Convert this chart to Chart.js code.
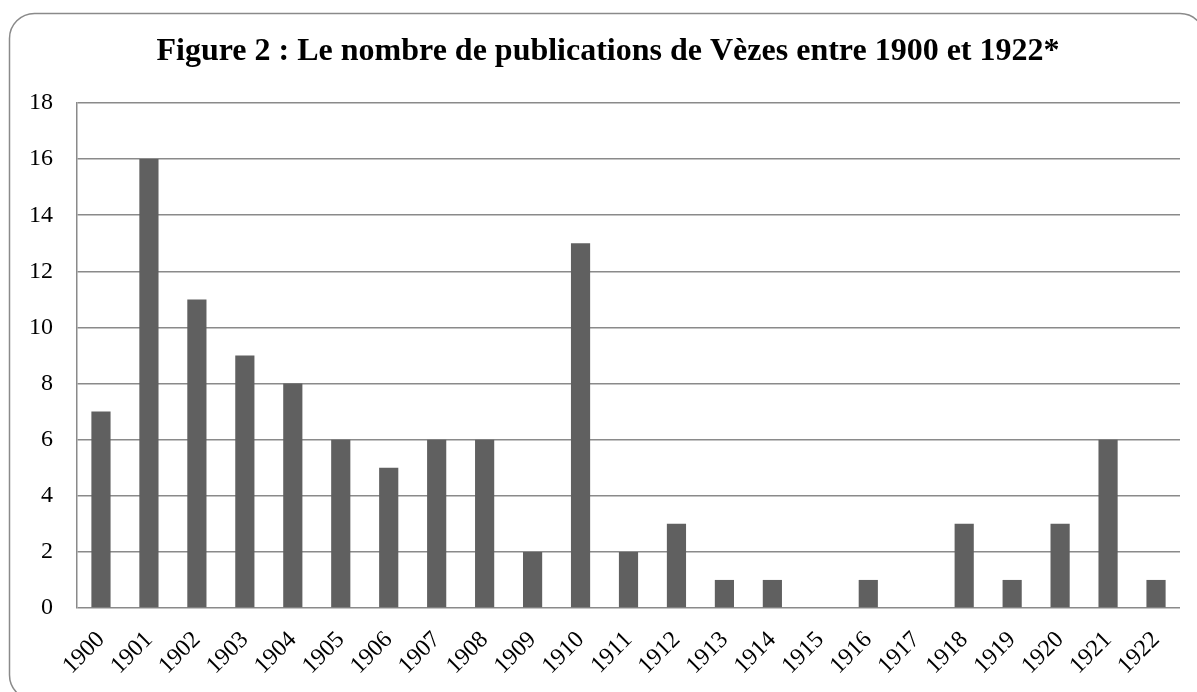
<!DOCTYPE html>
<html>
<head>
<meta charset="utf-8">
<script src="https://cdn.jsdelivr.net/npm/chart.js@4/dist/chart.umd.min.js"></script>
<style>
  html, body { margin: 0; padding: 0; background: #ffffff; }
  #wrap { width: 1197px; height: 692px; position: relative; }
</style>
</head>
<body>
<div id="wrap"><canvas id="chart" width="1197" height="692"></canvas></div>
<script>
// Publications par année
const years = ['1900','1901','1902','1903','1904','1905','1906','1907','1908','1909','1910','1911',
               '1912','1913','1914','1915','1916','1917','1918','1919','1920','1921','1922'];
const publications = [7, 16, 11, 9, 8, 6, 5, 6, 6, 2, 13, 2, 3, 1, 1, 0, 1, 0, 3, 1, 3, 6, 1];
const yMin = 0, yMax = 18, yStep = 2;
const titleText = 'Figure 2 : Le nombre de publications de Vèzes entre 1900 et 1922*';

const serif = '"Liberation Serif", "Times New Roman", serif';

// Rounded frame around the whole figure
const framePlugin = {
  id: 'frame',
  afterLayout(chart) {
    // centre the title over the frame rather than over the canvas
    if (chart.titleBlock) {
      chart.titleBlock.left = 36;
      chart.titleBlock.right = 1180;
      chart.titleBlock.width = 1180 - 36;
    }
  },
  beforeDraw(chart) {
    const ctx = chart.ctx;
    const x = 9.5, y = 13.5, w = 1205 - 9.5, h = 700 - 13.5, r = 25;
    ctx.save();
    ctx.fillStyle = '#ffffff';
    ctx.fillRect(0, 0, chart.width, chart.height);
    ctx.beginPath();
    ctx.moveTo(x + r, y);
    ctx.lineTo(x + w - r, y);
    ctx.arcTo(x + w, y, x + w, y + r, r);
    ctx.lineTo(x + w, y + h - r);
    ctx.arcTo(x + w, y + h, x + w - r, y + h, r);
    ctx.lineTo(x + r, y + h);
    ctx.arcTo(x, y + h, x, y + h - r, r);
    ctx.lineTo(x, y + r);
    ctx.arcTo(x, y, x + r, y, r);
    ctx.closePath();
    ctx.strokeStyle = '#8a8a8a';
    ctx.lineWidth = 1.5;
    ctx.stroke();
    ctx.restore();
  }
};

new Chart(document.getElementById('chart'), {
  type: 'bar',
  data: {
    labels: years,
    datasets: [{
      data: publications,
      backgroundColor: '#606060',
      borderWidth: 0,
      barPercentage: 0.4,
      categoryPercentage: 1.0
    }]
  },
  options: {
    responsive: false,
    animation: false,
    devicePixelRatio: 1,
    layout: { padding: { left: 0, right: 17, top: 0, bottom: 0 } },
    plugins: {
      legend: { display: false },
      tooltip: { enabled: false },
      title: {
        display: true,
        text: titleText,
        color: '#000000',
        font: { family: serif, size: 32, weight: 'bold', lineHeight: 1.2 },
        padding: { top: 33, bottom: 31.6 }
      }
    },
    scales: {
      x: {
        grid: { display: false, drawTicks: false },
        border: { display: false },
        ticks: {
          color: '#000000',
          font: { family: serif, size: 24 },
          minRotation: 45,
          maxRotation: 45,
          autoSkip: false,
          padding: 18
        },
        afterFit(scale) { scale.height = 84; }
      },
      y: {
        min: yMin,
        max: yMax,
        grid: { color: '#8a8a8a', lineWidth: 1.5, drawTicks: false },
        border: { display: true, color: '#8a8a8a', width: 1.5 },
        ticks: {
          stepSize: yStep,
          color: '#000000',
          font: { family: serif, size: 24 },
          padding: 24
        },
        afterFit(scale) { scale.width = 77; }
      }
    }
  },
  plugins: [framePlugin]
});
</script>
</body>
</html>
